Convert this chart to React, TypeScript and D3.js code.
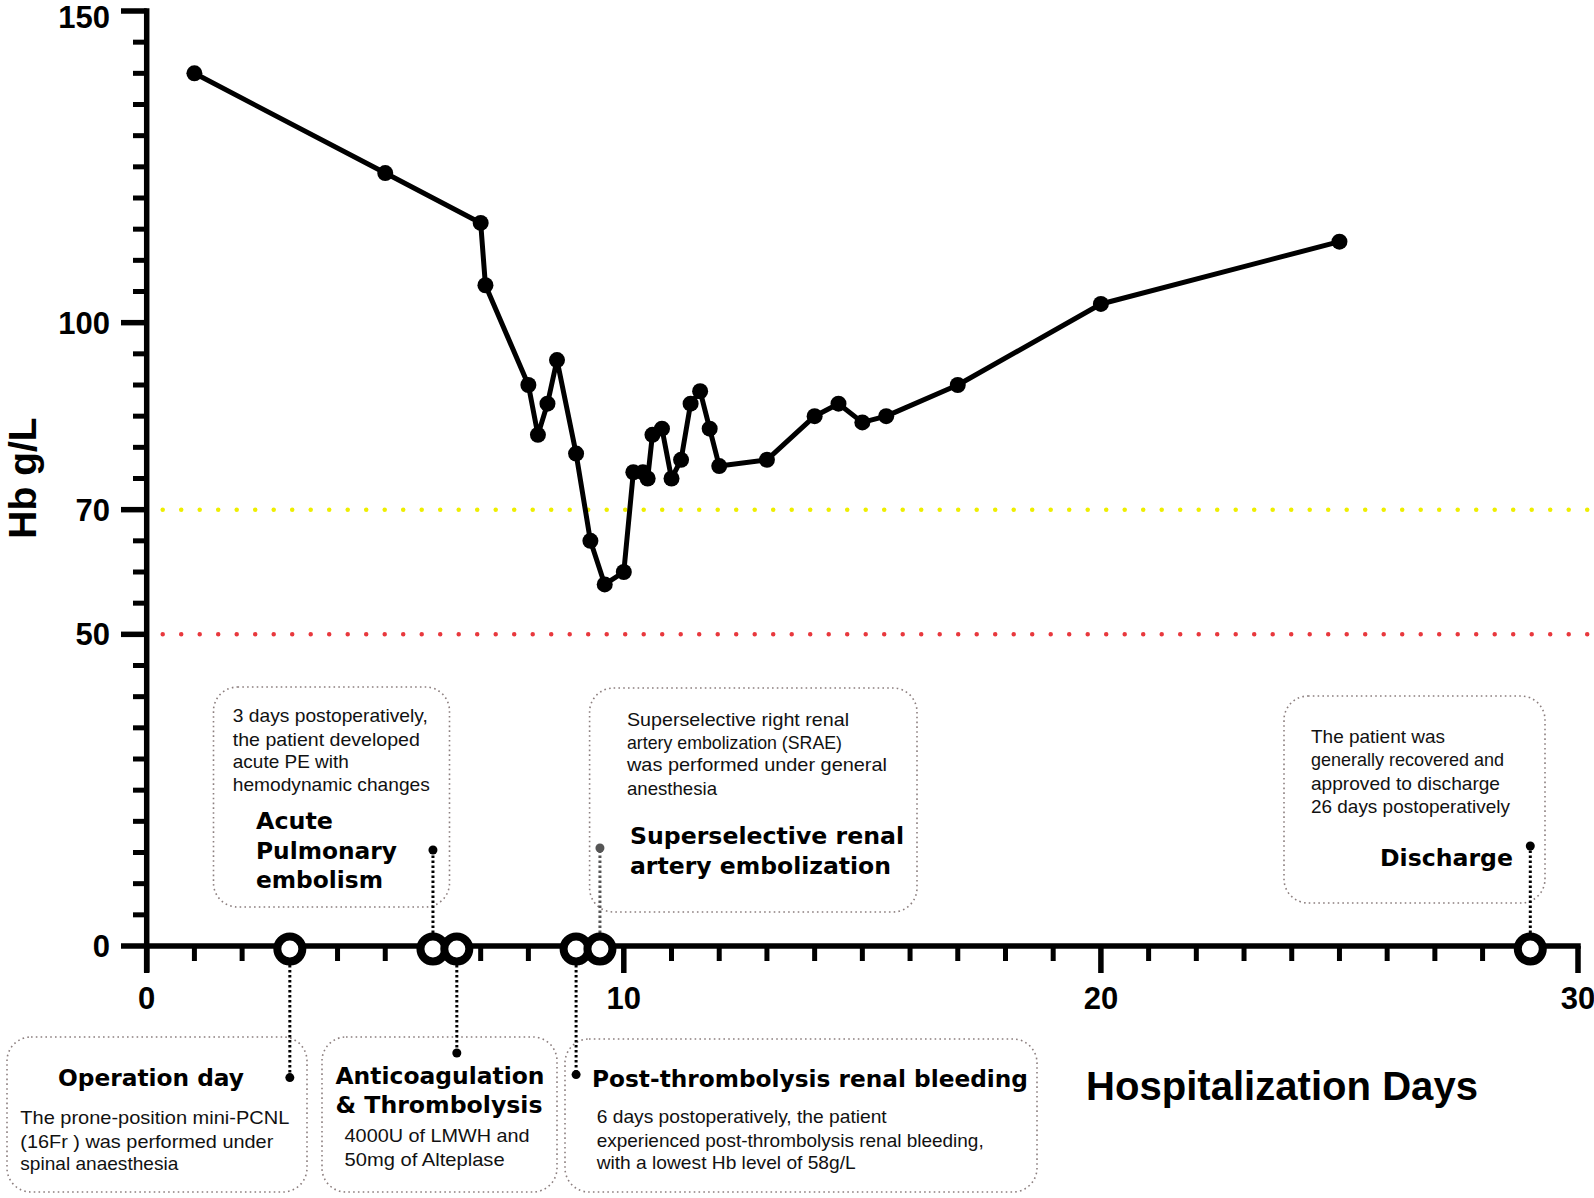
import React from 'react';
import * as d3 from 'd3';

// Hb values (g/L) by hospitalization day
const days = [1, 5, 7, 7.1, 8, 8.2, 8.4, 8.6, 9, 9.3, 9.6, 10, 10.2, 10.4, 10.5, 10.6, 10.8, 11, 11.2, 11.4, 11.6, 11.8, 12, 13, 14, 14.5, 15, 15.5, 17, 20, 25];
const hb = [140, 124, 116, 106, 90, 82, 87, 94, 79, 65, 58, 60, 76, 76, 75, 82, 83, 75, 78, 87, 89, 83, 77, 78, 85, 87, 84, 85, 90, 103, 113];

const yMajorTicks = [0, 50, 70, 100, 150];
const xMajorTicks = [0, 10, 20, 30];
const thresholdValues = [70, 50];
const thresholdColors = ['#eeee00', '#e8383d'];

// clinical events on the time axis
const eventDays = [3, 6, 6.5, 9, 9.5, 29];
const eventTitles = [
  ['Operation day'],
  ['Acute', 'Pulmonary', 'embolism'],
  ['Anticoagulation', '& Thrombolysis'],
  ['Post-thrombolysis renal bleeding'],
  ['Superselective renal', 'artery embolization'],
  ['Discharge'],
];
const eventNotes = [
  ['The prone-position mini-PCNL', '(16Fr ) was performed under', 'spinal anaesthesia'],
  ['3 days postoperatively,', 'the patient  developed', 'acute PE with', 'hemodynamic  changes'],
  ['4000U of LMWH and', '50mg of Alteplase'],
  ['6 days postoperatively, the patient', 'experienced post-thrombolysis renal bleeding,', 'with a lowest Hb level of 58g/L'],
  ['Superselective right renal', 'artery embolization (SRAE)', 'was performed under general', 'anesthesia'],
  ['The patient was', 'generally recovered and', 'approved to discharge', '26 days postoperatively'],
];

// layout of the annotation boxes (pixels)
const layout = [
  { box: [7, 1037, 300, 155], dotY: 1077.6, tx: 58, tys: [1085.5], tw: [186], anchor: 'start', bx: 20.3, bys: [1123.5, 1147.5, 1169.5], bw: [269, 253, 158] },
  { box: [213.5, 687, 236, 220], dotY: 850, tx: 256, tys: [829, 859, 888], tw: [77, 141, 127], anchor: 'start', bx: 232.8, bys: [722, 745.5, 768, 791], bw: [195, 187, 116, 197] },
  { box: [322, 1037, 235, 155], dotY: 1053, tx: 335.5, tys: [1083.5, 1112.5], tw: [209, 207], anchor: 'start', bx: 344.6, bys: [1142, 1165.5], bw: [185, 160] },
  { box: [565, 1039, 472, 153], dotY: 1074.6, tx: 592, tys: [1086.5], tw: [436], anchor: 'start', bx: 596.7, bys: [1122.5, 1146.5, 1168.5], bw: [290, 387, 259] },
  { box: [589.6, 688, 327.4, 224], dotY: 848, tx: 630, tys: [843.5, 873.5], tw: [274, 261], anchor: 'start', bx: 627, bys: [725.5, 748.5, 771, 794.5], bw: [222, 215, 260, 90] },
  { box: [1284, 696, 261, 207], dotY: 846, tx: 1513, tys: [865.5], tw: [133], anchor: 'end', bx: 1311, bys: [742.5, 765.5, 789.5, 812.5], bw: [134, 193, 189, 199] },
];

const x = d3.scaleLinear().domain([0, 30]).range([146.7, 1578]);
const y = d3.scaleLinear().domain([0, 150]).range([946, 11]);

const ARIAL = '"Liberation Sans", Arial, sans-serif';
const HEAVY = '"DejaVu Sans", sans-serif';

export default function App() {
  const path = d3.line<number>()
    .x((d, i) => x(days[i]))
    .y(d => y(d))(hb);

  const yMinor = d3.range(0, 151, 5).filter(v => !yMajorTicks.includes(v));
  const xMinor = d3.range(0, 31, 1).filter(v => !xMajorTicks.includes(v));
  const axisY = y(0);
  const circleY = axisY + 3;

  return (
    <div style={{ position: 'absolute', left: 0, top: 0 }}>
      <svg width={1594} height={1198} style={{ display: 'block', background: '#fff' }}>
        {/* threshold lines */}
        {thresholdValues.map((v, i) => (
          <line key={'th' + i} x1={162.7} x2={1594} y1={y(v)} y2={y(v)}
            stroke={thresholdColors[i]} strokeWidth={4.5} strokeLinecap="round" strokeDasharray="0 18.5" />
        ))}

        {/* y axis */}
        <line x1={x(0)} x2={x(0)} y1={y(150) - 2.75} y2={972} stroke="#000" strokeWidth={5.5} />
        {yMinor.map(v => (
          <line key={'ym' + v} x1={133} x2={x(0)} y1={y(v)} y2={y(v)} stroke="#000" strokeWidth={5} />
        ))}
        {yMajorTicks.map(v => (
          <g key={'yM' + v}>
            <line x1={121} x2={x(0)} y1={y(v)} y2={y(v)} stroke="#000" strokeWidth={5.5} />
            <text x={110} y={Math.max(y(v) + 11, 28)} textAnchor="end" fontFamily={ARIAL} fontWeight="bold" fontSize={31}>{v}</text>
          </g>
        ))}

        {/* x axis */}
        <line x1={x(0)} x2={x(30) + 2.75} y1={axisY} y2={axisY} stroke="#000" strokeWidth={5.5} />
        {xMinor.map(v => (
          <line key={'xm' + v} x1={x(v)} x2={x(v)} y1={axisY} y2={axisY + 15} stroke="#000" strokeWidth={5} />
        ))}
        {xMajorTicks.map(v => (
          <g key={'xM' + v}>
            <line x1={x(v)} x2={x(v)} y1={axisY} y2={973} stroke="#000" strokeWidth={5.5} />
            <text x={x(v)} y={1009} textAnchor="middle" fontFamily={ARIAL} fontWeight="bold" fontSize={31}>{v}</text>
          </g>
        ))}

        {/* axis titles */}
        <text transform="translate(36,478) rotate(-90)" textAnchor="middle" fontFamily={ARIAL} fontWeight="bold" fontSize={39}>Hb g/L</text>
        <text x={1086} y={1100} fontFamily={ARIAL} fontWeight="bold" fontSize={40} textLength={392} lengthAdjust="spacingAndGlyphs">Hospitalization Days</text>

        {/* Hb series */}
        <path d={path || ''} fill="none" stroke="#000" strokeWidth={5} strokeLinejoin="round" />
        {hb.map((v, i) => (
          <circle key={'p' + i} cx={x(days[i])} cy={y(v)} r={8} fill="#000" />
        ))}

        {/* annotation boxes */}
        {layout.map((l, i) => (
          <rect key={'b' + i} x={l.box[0]} y={l.box[1]} width={l.box[2]} height={l.box[3]} rx={24}
            fill="none" stroke="#8c7f7f" strokeWidth={1.6} strokeDasharray="1.6 3.2" />
        ))}

        {/* connectors */}
        {eventDays.map((d, i) => {
          const l = layout[i];
          const up = l.dotY < axisY;
          const col = i === 4 ? '#555' : '#000';
          return (
            <g key={'c' + i}>
              <line x1={x(d)} x2={x(d)} y1={up ? circleY - 16 : circleY + 16} y2={l.dotY}
                stroke={col} strokeWidth={3} strokeDasharray="2.6 2.4" />
              <circle cx={x(d)} cy={l.dotY} r={4.5} fill={col} />
            </g>
          );
        })}

        {/* event markers */}
        {eventDays.map((d, i) => (
          <circle key={'e' + i} cx={x(d)} cy={circleY} r={12.5} fill="#fff" stroke="#000" strokeWidth={8} />
        ))}

        {/* annotation text */}
        {layout.map((l, i) => (
          <g key={'t' + i}>
            {eventTitles[i].map((s, j) => (
              <text key={'tt' + j} x={l.tx} y={l.tys[j]} textAnchor={l.anchor} fontFamily={HEAVY} fontWeight="bold"
                fontSize={23.5} textLength={l.tw[j]} lengthAdjust="spacingAndGlyphs">{s}</text>
            ))}
            {eventNotes[i].map((s, j) => (
              <text key={'tn' + j} x={l.bx} y={l.bys[j]} fontFamily={ARIAL} fontSize={18.5} fill="#111"
                textLength={l.bw[j]} lengthAdjust="spacingAndGlyphs">{s}</text>
            ))}
          </g>
        ))}
      </svg>
    </div>
  );
}
